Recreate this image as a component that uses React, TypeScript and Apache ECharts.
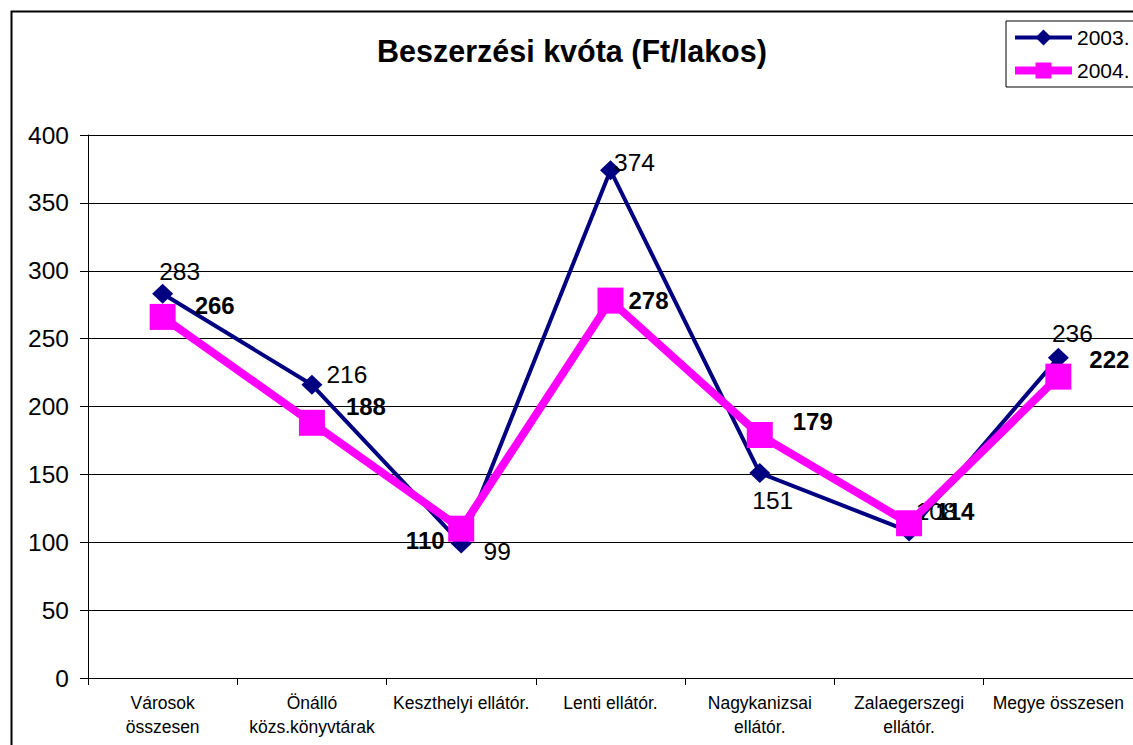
import React, { useEffect, useRef } from "react";
import * as echarts from "echarts";

const categories = [
  "Városok\nösszesen",
  "Önálló\nközs.könyvtárak",
  "Keszthelyi ellátór.",
  "Lenti ellátór.",
  "Nagykanizsai\nellátór.",
  "Zalaegerszegi\nellátór.",
  "Megye összesen",
];
const values2003 = [283, 216, 99, 374, 151, 108, 236];
const values2004 = [266, 188, 110, 278, 179, 114, 222];
const seriesNames = ["2003.", "2004."];
const titleText = "Beszerzési kvóta (Ft/lakos)";
const yMin = 0;
const yMax = 400;
const yInterval = 50;

// label placement offsets (styling, px relative to the marker centre)
const offsets2003 = [[17, -22], [35, -10], [36, 8], [24, -8], [13, 27], [27, -20], [14, -24]];
const offsets2004 = [[52, -11], [54, -16], [-36, 12], [38, 0], [53, -14], [46, -12], [51, -17]];

const FONT = "'Liberation Sans', Arial, Helvetica, sans-serif";

export default function App() {
  const ref = useRef<HTMLDivElement>(null);
  useEffect(() => {
    if (!ref.current) return;
    document.body.style.margin = "0";
    document.body.style.overflow = "hidden";
    const chart = echarts.init(ref.current, undefined, { renderer: "svg" });
    chart.setOption({
      animation: false,
      textStyle: { fontFamily: FONT, color: "#000" },
      title: {
        text: titleText,
        left: 372,
        top: 30,
        textStyle: { fontFamily: FONT, fontSize: 30.5, fontWeight: "bold", color: "#000" },
      },
      legend: {
        orient: "vertical",
        left: 1006,
        top: 21,
        itemWidth: 57,
        itemHeight: 20,
        itemGap: 12,
        padding: [6, 12, 6, 5],
        borderColor: "#000",
        borderWidth: 1,
        backgroundColor: "#fff",
        textStyle: { fontFamily: FONT, fontSize: 21, color: "#000" },
        data: [
          { name: seriesNames[0], lineStyle: { width: 4, color: "#000080" }, itemStyle: { color: "#000080" } },
          { name: seriesNames[1], lineStyle: { width: 8, color: "#FF00FF" }, itemStyle: { color: "#FF00FF" } },
        ],
      },
      graphic: [
        {
          type: "rect",
          left: 9,
          top: 9,
          shape: { x: 0, y: 0, width: 1200, height: 800 },
          style: { fill: "none", stroke: "#000", lineWidth: 2 },
          silent: true,
          z: -1,
        },
      ],
      grid: { left: 88, top: 135, width: 1048, height: 543, containLabel: false },
      xAxis: {
        type: "category",
        data: categories,
        boundaryGap: true,
        axisLine: { lineStyle: { color: "#000", width: 1 } },
        axisTick: { show: true, length: 7, lineStyle: { color: "#000" }, alignWithLabel: false },
        axisLabel: {
          interval: 0,
          margin: 13,
          fontFamily: FONT,
          fontSize: 17.5,
          lineHeight: 24,
          color: "#000",
        },
      },
      yAxis: {
        type: "value",
        min: yMin,
        max: yMax,
        interval: yInterval,
        axisLine: { show: true, lineStyle: { color: "#000", width: 1 } },
        axisTick: { show: true, length: 8, lineStyle: { color: "#000" } },
        axisLabel: { margin: 19, fontFamily: FONT, fontSize: 24.5, color: "#000" },
        splitLine: { show: true, lineStyle: { color: "#000", width: 1 } },
      },
      series: [
        {
          name: seriesNames[0],
          type: "line",
          data: values2003.map((v, i) => ({ value: v, label: { offset: offsets2003[i] } })),
          symbol: "diamond",
          symbolSize: [21, 20],
          lineStyle: { color: "#000080", width: 4 },
          itemStyle: { color: "#000080" },
          label: {
            show: true,
            position: "inside",
            fontFamily: FONT,
            fontSize: 24.5,
            color: "#000",
          },
          emphasis: { disabled: true },
          z: 2,
        },
        {
          name: seriesNames[1],
          type: "line",
          data: values2004.map((v, i) => ({ value: v, label: { offset: offsets2004[i] } })),
          symbol: "rect",
          symbolSize: 26,
          lineStyle: { color: "#FF00FF", width: 8 },
          itemStyle: { color: "#FF00FF" },
          label: {
            show: true,
            position: "inside",
            fontFamily: FONT,
            fontSize: 24,
            fontWeight: "bold",
            color: "#000",
          },
          emphasis: { disabled: true },
          z: 3,
        },
      ],
    });
    return () => chart.dispose();
  }, []);
  return <div ref={ref} style={{ width: 1133, height: 745 }} />;
}
